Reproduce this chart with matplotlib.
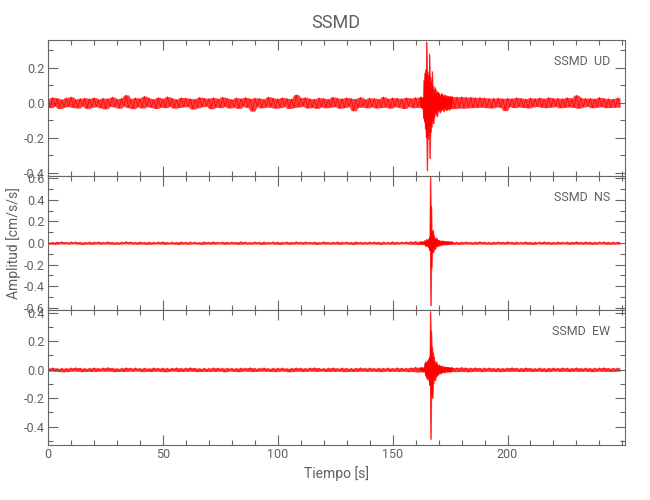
import numpy as np
import matplotlib
matplotlib.use('Agg')
import matplotlib.pyplot as plt
from matplotlib.ticker import MultipleLocator

plt.rcParams['font.family'] = ['Roboto', 'DejaVu Sans']

# 数据 (单位: 0.001 cm/s/s)
# 事件前: 0-161 s, 每 1 s 一个值; 事件: 162-175.8 s, 每 0.2 s; 事件后: 176-249 s, 每 1 s
ud_pre = [22, -28, 31, -19, 26, -33, 18, -25, 29, -21, 34, -27, 20, -30, 25, -18, 28, -32, 23, -26,
          30, -22, 19, -29, 27, -35, 24, -20, 33, -24, 21, -31, 26, -19, 45, -28, 22, -34, 29, -23,
          25, -30, 38, -21, 27, -26, 20, -33, 31, -25, 23, -28, 35, -20, 26, -31, 19, -27, 30, -24,
          28, -22, 24, -36, 21, -29, 32, -23, 27, -19, 25, -34, 30, -26, 22, -28, 33, -21, 26, -30,
          19, -25, 29, -32, 24, -20, 31, -27, 23, -48, 28, -22, 26, -29, 20, -24, 34, -26, 27, -31,
          23, -28, 30, -21, 25, -33, 22, -27, 47, -24, 28, -19, 31, -30, 24, -26, 21, -32, 29, -23,
          26, -29, 20, -25, 33, -22, 27, -31, 24, -28, 30, -20, 25, -46, 22, -27, 32, -24, 19, -29,
          28, -23, 26, -30, 21, -27, 34, -25, 23, -31, 29, -22, 27, -26, 24, -33, 30, -21, 25, -28,
          31, -26]
ud_event = [32, -27, 36, -30, 28, -34, 30, -90, 130, -110,
            170, -150, 190, -200, 350, -390, 180, -210, 160, -190,
            280, -320, 150, -170, 120, -140, 180, -110, 95, -120,
            70, -85, 90, -60, 75, -70, 55, -80, 65, -50,
            60, -45, 52, -58, 40, -48, 55, -42, 50, -38,
            45, -52, 38, -40, 47, -36, 42, -45, 35, -40,
            40, -33, 37, -42, 34, -36, 39, -31, 35, -34]
ud_post = [36, -33, 34, -30, 35, -31, 32, -29, 33, -28,
           30, -27, 31, -25, 29, -28, 26, -30, 27, -24,
           28, -26, 24, -45, 27, -22, 25, -28, 30, -23,
           26, -27, 22, -30, 28, -24, 25, -21, 29, -26,
           23, -28, 31, -25, 26, -22, 27, -29, 24, -26,
           30, -23, 25, -27, 44, -31, 28, -24, 26, -20,
           27, -29, 23, -25, 31, -22, 26, -28, 24, -27,
           22, -26, 29, -24]

ns_pre = [9, -11, 7, -12, 10, -8, 13, -9, 8, -10, 11, -7, 12, -10, 9, -13, 8, -9, 11, -12,
          10, -8, 12, -11, 7, -9, 13, -10, 9, -12, 8, -11, 10, -7, 14, -9, 11, -10, 8, -12,
          12, -9, 8, -13, 10, -11, 9, -8, 11, -10, 13, -12, 7, -9, 10, -11, 8, -13, 12, -9,
          9, -12, 11, -8, 10, -10, 7, -13, 12, -9, 8, -11, 13, -10, 9, -8, 11, -12, 10, -9,
          11, -10, 8, -12, 13, -9, 10, -11, 7, -10, 12, -8, 9, -13, 11, -10, 8, -9, 12, -11,
          10, -13, 9, -8, 11, -12, 8, -10, 13, -9, 10, -11, 12, -8, 9, -10, 11, -13, 7, -9,
          13, -10, 8, -11, 10, -9, 12, -12, 9, -8, 11, -10, 8, -13, 12, -9, 10, -11, 9, -10,
          11, -8, 12, -10, 9, -13, 10, -9, 8, -11, 13, -12, 10, -9, 11, -8, 12, -10, 14, -13,
          16, -15]
ns_event = [14, -12, 15, -13, 12, -16, 14, -11, 13, -15,
            25, -30, 22, -28, 35, -26, 30, -40, 38, -45,
            55, -70, 620, -580, 340, -230, 110, -90, 120, -80,
            70, -60, 45, -55, 40, -35, 48, -30, 28, -32,
            25, -22, 27, -20, 18, -24, 20, -17, 22, -19,
            17, -15, 19, -16, 14, -18, 16, -13, 15, -17,
            14, -12, 15, -14, 12, -13, 14, -11, 13, -12]
ns_post = [12, -11, 10, -13, 11, -9, 12, -10, 9, -12,
           11, -10, 13, -9, 10, -11, 8, -12, 10, -9,
           12, -10, 9, -11, 13, -8, 10, -12, 11, -9,
           8, -10, 12, -11, 9, -13, 10, -8, 11, -10,
           13, -9, 10, -12, 8, -11, 12, -10, 9, -8,
           11, -12, 10, -9, 13, -10, 8, -11, 12, -9,
           10, -13, 9, -10, 11, -8, 12, -11, 9, -12,
           10, -9, 11, -10]

ew_pre = [12, -10, 14, -11, 9, -13, 11, -15, 10, -12, 13, -9, 15, -11, 12, -14, 10, -12, 11, -13,
          14, -12, 10, -9, 13, -11, 16, -10, 12, -14, 9, -12, 11, -13, 15, -10, 12, -11, 13, -9,
          10, -14, 12, -11, 9, -13, 14, -10, 11, -12, 13, -15, 10, -11, 12, -9, 14, -13, 11, -12,
          13, -11, 15, -10, 12, -14, 9, -12, 11, -13, 10, -11, 14, -12, 13, -10, 11, -15, 12, -9,
          11, -12, 10, -14, 13, -9, 12, -11, 15, -13, 10, -12, 11, -10, 14, -11, 9, -13, 12, -14,
          12, -10, 13, -11, 9, -15, 11, -12, 14, -10, 12, -13, 10, -11, 13, -9, 15, -12, 11, -10,
          10, -13, 12, -11, 14, -12, 9, -10, 13, -14, 11, -12, 10, -13, 12, -11, 14, -10, 11, -12,
          13, -11, 10, -12, 12, -14, 11, -9, 13, -12, 10, -11, 14, -13, 12, -10, 11, -14, 15, -13,
          18, -17]
ew_event = [16, -14, 18, -13, 15, -17, 14, -16, 19, -15,
            45, -40, 60, -55, 50, -70, 65, -60, 75, -80,
            90, -110, 410, -490, 270, -190, 160, -200, 120, -100,
            90, -70, 60, -75, 45, -50, 55, -40, 35, -38,
            32, -28, 35, -25, 27, -30, 24, -22, 26, -20,
            22, -19, 20, -23, 18, -17, 21, -16, 19, -18,
            17, -15, 18, -16, 14, -17, 16, -13, 15, -14]
ew_post = [16, -14, 15, -13, 17, -12, 14, -15, 13, -12,
           15, -11, 12, -14, 13, -10, 14, -12, 11, -13,
           12, -14, 10, -11, 13, -12, 15, -10, 12, -13,
           11, -12, 14, -10, 12, -13, 9, -11, 13, -12,
           10, -14, 12, -11, 13, -9, 11, -12, 14, -10,
           12, -13, 11, -10, 14, -12, 10, -11, 13, -12,
           11, -14, 12, -10, 13, -11, 15, -12, 10, -13,
           12, -11, 13, -10]

station = 'SSMD'
components = ['UD', 'NS', 'EW']
traces = [(ud_pre, ud_event, ud_post), (ns_pre, ns_event, ns_post), (ew_pre, ew_event, ew_post)]
ylims = [(-0.42, 0.36), (-0.62, 0.62), (-0.53, 0.42)]
yticks = [[-0.4, -0.2, 0.0, 0.2], [-0.6, -0.4, -0.2, 0.0, 0.2, 0.4, 0.6], [-0.4, -0.2, 0.0, 0.2, 0.4]]
xticks = [0, 50, 100, 150, 200]

gris = '#666666'
texto = '#606060'
fig = plt.figure(figsize=(6.5, 5), dpi=100)

# 面板位置 (left, bottom, width, height)
pos = [(0.074, 0.648, 0.887, 0.272), (0.074, 0.380, 0.887, 0.268), (0.074, 0.110, 0.887, 0.270)]

for i, (pre, ev, post) in enumerate(traces):
    ax = fig.add_axes(pos[i])
    t = np.concatenate([np.arange(len(pre)) * 1.0,
                        162.0 + np.arange(len(ev)) * 0.2,
                        176.0 + np.arange(len(post)) * 1.0])
    y = np.array(pre + ev + post) * 0.001
    # 密集波形: 相邻样本的最大/最小值构成的包络带
    yp = np.pad(y, 1, mode='edge')
    hi = np.maximum(np.maximum(yp[:-2], yp[1:-1]), yp[2:])
    lo = np.minimum(np.minimum(yp[:-2], yp[1:-1]), yp[2:])
    ax.fill_between(t, lo, hi, color='#ff0000', lw=0, alpha=0.75)
    ax.plot(t, y, color='#ff0000', lw=0.5)
    ax.set_xlim(0, 251)
    ax.set_ylim(*ylims[i])
    ax.set_yticks(yticks[i])
    ax.set_yticklabels(['%.1f' % v for v in yticks[i]])
    ax.set_xticks(xticks)
    ax.xaxis.set_minor_locator(MultipleLocator(10))
    ax.yaxis.set_minor_locator(MultipleLocator(0.1))
    ax.tick_params(which='both', direction='in', top=True, right=True, color=gris,
                   labelcolor=texto, labelsize=9, width=0.8, pad=2.5)
    ax.tick_params(which='major', length=7)
    ax.tick_params(which='minor', length=3.5)
    for s in ax.spines.values():
        s.set_color(gris)
        s.set_linewidth(0.8)
    if i < 2:
        ax.set_xticklabels([])
    else:
        ax.set_xlabel('Tiempo [s]', color=texto, fontsize=10, labelpad=3)
    if i == 1:
        ax.set_ylabel('Amplitud [cm/s/s]', color=texto, fontsize=10)
        ax.yaxis.set_label_coords(-0.047, 0.5)
    ax.text(0.975, 0.84, station + '  ' + components[i], transform=ax.transAxes,
            ha='right', va='center', color=texto, fontsize=9)

fig.text(0.517, 0.955, station, ha='center', va='center', color=texto, fontsize=13)

plt.savefig('out.png', dpi=100)
